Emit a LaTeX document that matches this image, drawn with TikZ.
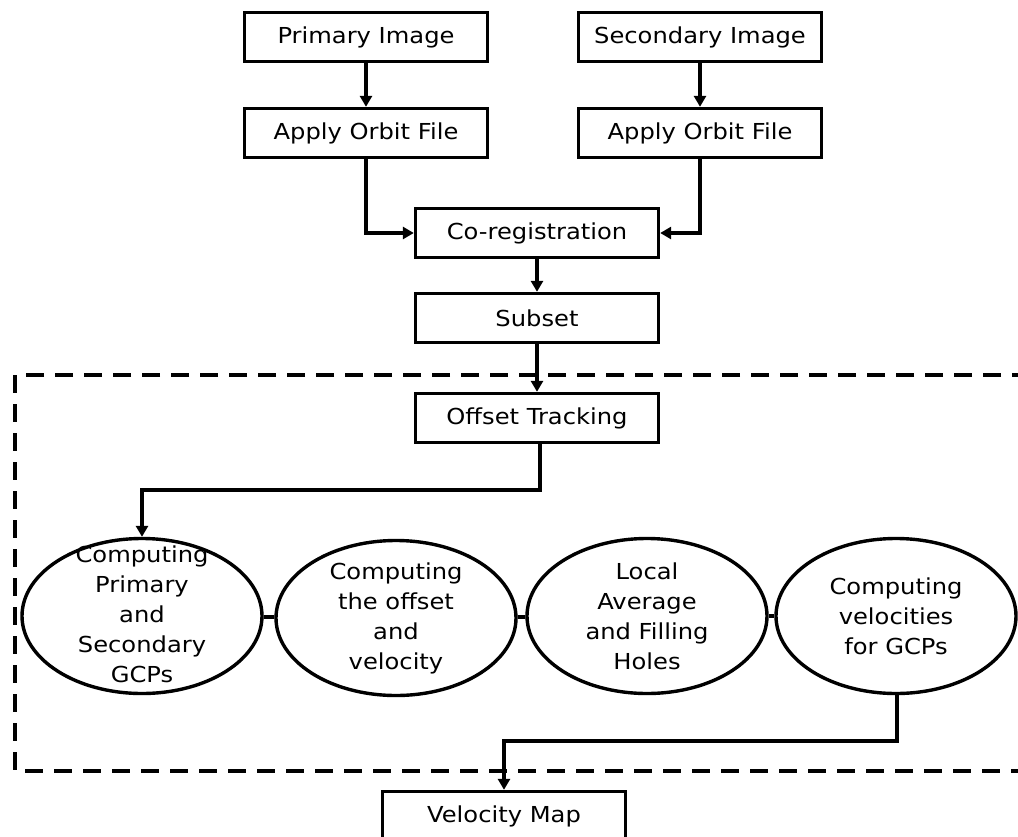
\documentclass[tikz,border=0pt]{standalone}
\usepackage{fontspec}
\setmainfont[FakeStretch=1.1]{DejaVu Sans}
\usetikzlibrary{shapes.geometric,arrows.meta}
\begin{document}
\begin{tikzpicture}[x=1pt,y=-1pt,
  every node/.style={font=\fontsize{22}{30}\selectfont},
  procbox/.style={draw,line width=3.4pt,minimum width=243pt,minimum height=49pt,inner sep=0pt},
  stepell/.style={draw,ellipse,line width=3.4pt,minimum width=240pt,minimum height=155pt,inner sep=0pt},
  elltext/.style={align=center,inner sep=0pt},
  flow/.style={line width=3.2pt,-{Triangle[length=11pt,width=12pt]}},
  link/.style={line width=3.6pt},
  dashbox/.style={line width=3.8pt,dash pattern=on 18pt off 11pt}]
\useasboundingbox (0,0) rectangle (1018,836);
% boxes
\node[procbox] (p1) at (366,37) {Primary Image};
\node[procbox] (s1) at (700,37) {Secondary Image};
\node[procbox] (a1) at (366,133) {Apply Orbit File};
\node[procbox] (a2) at (700,133) {Apply Orbit File};
\node[procbox] (cr) at (537,233) {Co-registration};
\node[procbox] (sb) at (537,318) {Subset};
\node[procbox] (ot) at (537,418) {Offset Tracking};
\node[procbox] (vm) at (504,816) {Velocity Map};
% ellipses
\node[stepell] (e1) at (142,616) {};
\node[stepell] (e2) at (396,618) {};
\node[stepell] (e3) at (647,616) {};
\node[stepell] (e4) at (896,616) {};
\node[elltext] (e1t) at (142,614) {Computing\\Primary\\and\\Secondary\\GCPs};
\node[elltext] (e2t) at (396,618) {Computing\\the offset\\and\\velocity};
\node[elltext] (e3t) at (647,616) {Local\\Average\\and Filling\\Holes};
\node[elltext] (e4t) at (896,616) {Computing\\velocities\\for GCPs};
% dashed region
\coordinate (dtr) at (1030,375);
\coordinate (dtl) at (15,375);
\coordinate (dbl) at (15,771);
\coordinate (dbr) at (1030,771);
\draw[dashbox] (dtr) -- (dtl) -- (dbl) -- (dbr);
% connectors
\draw[flow] (p1) -- (a1);
\draw[flow] (s1) -- (a2);
\draw[flow] (a1.south) |- (cr.west);
\draw[flow] (a2.south) |- (cr.east);
\draw[flow] (cr) -- (sb);
\draw[flow] (sb) -- (ot);
\coordinate (k1) at (540,490);
\draw[flow] (ot.south -| k1) -- (k1) -| (e1.north);
\draw[link] (e1) -- (e2);
\draw[link] (e2) -- (e3);
\draw[link] (e3) -- (e4);
\coordinate (k2) at (897,741);
\draw[flow] (e4.south -| k2) -- (k2) -| (vm.north);
\end{tikzpicture}
\end{document}
